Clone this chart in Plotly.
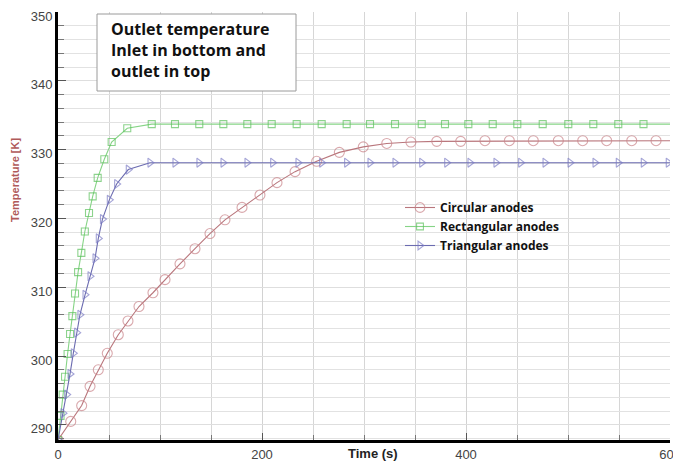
import plotly.graph_objects as go

# ---- data ----
series_names = ["Circular anodes", "Rectangular anodes", "Triangular anodes"]

circ_t = [0, 12.5, 23.2, 31.4, 39.5, 48.3, 59.1, 68.6, 79.4, 93.1, 104.9, 119.6, 134.3, 149.0,
          163.7, 180.4, 198.0, 214.7, 232.4, 253.6, 275.8, 299.3, 322.3, 346.0, 371.3, 394.8,
          418.6, 442.5, 466.0, 490.5, 514.4, 537.9, 562.5, 586.3, 600]
circ_T = [287.8, 290.5, 292.8, 295.6, 298.0, 300.4, 303.1, 305.1, 307.2, 309.2, 311.1, 313.4, 315.6, 317.8,
          319.8, 321.6, 323.4, 325.2, 326.8, 328.3, 329.6, 330.4, 330.9, 331.1, 331.2, 331.2,
          331.3, 331.3, 331.3, 331.3, 331.3, 331.3, 331.3, 331.3, 331.3]

rect_t = [0, 2.5, 4.6, 6.9, 9.4, 11.8, 14.1, 16.7, 19.7, 22.9, 26.3, 30.4, 34.0, 38.9, 45.4, 52.6,
          67.9, 91.9, 114.7, 138.5, 162.1, 185.6, 209.5, 234.0, 258.5, 283.0, 305.9, 330.4,
          356.6, 379.4, 402.3, 426.2, 450.3, 475.2, 500.3, 524.8, 549.3, 574.0, 600]
rect_T = [287.8, 291.3, 294.4, 297.0, 300.3, 303.2, 305.8, 309.1, 312.2, 315.0, 318.1, 320.8, 323.2, 325.9, 328.6, 331.1,
          333.1, 333.7, 333.7, 333.7, 333.7, 333.7, 333.7, 333.7, 333.7, 333.7, 333.7, 333.7,
          333.7, 333.7, 333.7, 333.7, 333.7, 333.7, 333.7, 333.7, 333.7, 333.7, 333.7]

tri_t = [0, 4.9, 8.5, 11.8, 15.0, 18.3, 21.5, 26.5, 31.4, 36.3, 39.5, 43.6, 50.3, 57.5, 68.9,
         90.2, 114.7, 138.2, 161.8, 185.3, 210.5, 235.3, 258.5, 283.0, 305.9, 330.4, 356.6,
         381.1, 403.9, 429.4, 453.6, 477.5, 502.0, 526.5, 549.3, 573.8, 598.3, 600]
tri_T = [287.8, 291.7, 294.4, 297.4, 300.4, 303.4, 306.0, 308.9, 311.6, 314.2, 317.1, 319.9, 322.7, 325.0, 327.1,
         328.1, 328.1, 328.1, 328.1, 328.1, 328.1, 328.1, 328.1, 328.1, 328.1, 328.1, 328.1,
         328.1, 328.1, 328.1, 328.1, 328.1, 328.1, 328.1, 328.1, 328.1, 328.1, 328.1]

x_ticks = [0, 200, 400, 600]
y_ticks = [290, 300, 310, 320, 330, 340, 350]

title_lines = ["Outlet temperature", "Inlet in bottom and", "outlet in top"]
x_title = "Time (s)"
y_title = "Temperature [K]"

# ---- figure ----
styles = [
    dict(symbol="circle-open", size=10, mcolor="#c98389", lcolor="#b9767c"),
    dict(symbol="square-open", size=7, mcolor="#5cc05c", lcolor="#86d486"),
    dict(symbol="triangle-right-open", size=8, mcolor="#7c7cc4", lcolor="#6b6bb0"),
]
data = [(circ_t, circ_T), (rect_t, rect_T), (tri_t, tri_T)]

fig = go.Figure()
for name, (t, T), st in zip(series_names, data, styles):
    sizes = [st["size"]] * (len(t) - 1) + [0]
    fig.add_trace(go.Scatter(
        x=t, y=T, name=name, mode="lines+markers",
        line=dict(color=st["lcolor"], width=1.1),
        marker=dict(symbol=st["symbol"], size=sizes, color=st["mcolor"],
                    line=dict(width=1.1, color=st["mcolor"])),
    ))

# page body has an 8px margin, so the figure is sized/offset accordingly
OFF = 8
W, H = 681 - OFF, 461 - OFF
L, TOP = 58 - OFF, 12 - OFF
R = W - (670 - OFF)
B = H - (440 - OFF)
pw, ph = W - L - R, H - TOP - B

def px(xp):
    return (xp - OFF - L) / pw

def py(yp):
    return (H - B - (yp - OFF)) / ph

fig.update_layout(
    width=W, height=H,
    margin=dict(l=L, r=R, t=TOP, b=B, autoexpand=False),
    paper_bgcolor="white", plot_bgcolor="white",
    font=dict(family="Liberation Sans, Arial, sans-serif", color="#333"),
    showlegend=True,
    legend=dict(x=px(400), y=py(193), xanchor="left", yanchor="top",
                bgcolor="rgba(0,0,0,0)", font=dict(size=12, color="#111",
                family="Open Sans, Liberation Sans, sans-serif", weight="bold"),
                itemwidth=30, tracegroupgap=0),
    xaxis=dict(range=[0, 600], tickvals=x_ticks, ticktext=[str(v) for v in x_ticks],
               automargin=False, ticklabeloverflow="allow",
               showline=True, linecolor="black", linewidth=3,
               ticks="inside", ticklen=7, tickcolor="#555", tickwidth=1,
               showgrid=True, gridcolor="#d2d2d2", gridwidth=1, zeroline=False,
               tickfont=dict(size=13, color="#444"),
               minor=dict(dtick=50, tick0=0, showgrid=True, gridcolor="#d6d6d6",
                          ticks="inside", ticklen=5, tickcolor="#777")),
    yaxis=dict(range=[287.8, 350], tickvals=y_ticks, ticktext=[str(v) for v in y_ticks],
               automargin=False, ticklabeloverflow="allow", ticklabelshift=4,
               showline=True, linecolor="black", linewidth=3,
               ticks="inside", ticklen=8, tickcolor="#555", tickwidth=1,
               showgrid=True, gridcolor="#dedede", gridwidth=1, zeroline=False,
               tickfont=dict(size=13, color="#444"),
               minor=dict(dtick=2, tick0=290, showgrid=True, gridcolor="#e2e2e2",
                          ticks="inside", ticklen=6, tickcolor="#777")),
    shapes=[dict(type="rect", xref="paper", yref="paper",
                 x0=px(97), x1=px(296), y0=py(91), y1=py(14),
                 line=dict(color="#9a9a9a", width=1), fillcolor="white", layer="above")],
    annotations=[
        dict(text="<br>".join(title_lines), xref="paper", yref="paper",
             x=px(109), y=py(16), xanchor="left", yanchor="top", align="left",
             showarrow=False, font=dict(size=16, color="#111", weight="bold",
                                        family="Open Sans, Liberation Sans, sans-serif")),
        dict(text=x_title, xref="paper", yref="paper", x=px(373), y=py(453),
             xanchor="center", yanchor="middle", showarrow=False,
             font=dict(size=13, color="#222", weight="bold")),
        dict(text=y_title, xref="paper", yref="paper", x=px(15), y=py(180),
             xanchor="center", yanchor="middle", textangle=-90, showarrow=False,
             font=dict(size=11, color="#b05a5a", weight="bold")),
    ],
)

fig.write_html("out.html")
